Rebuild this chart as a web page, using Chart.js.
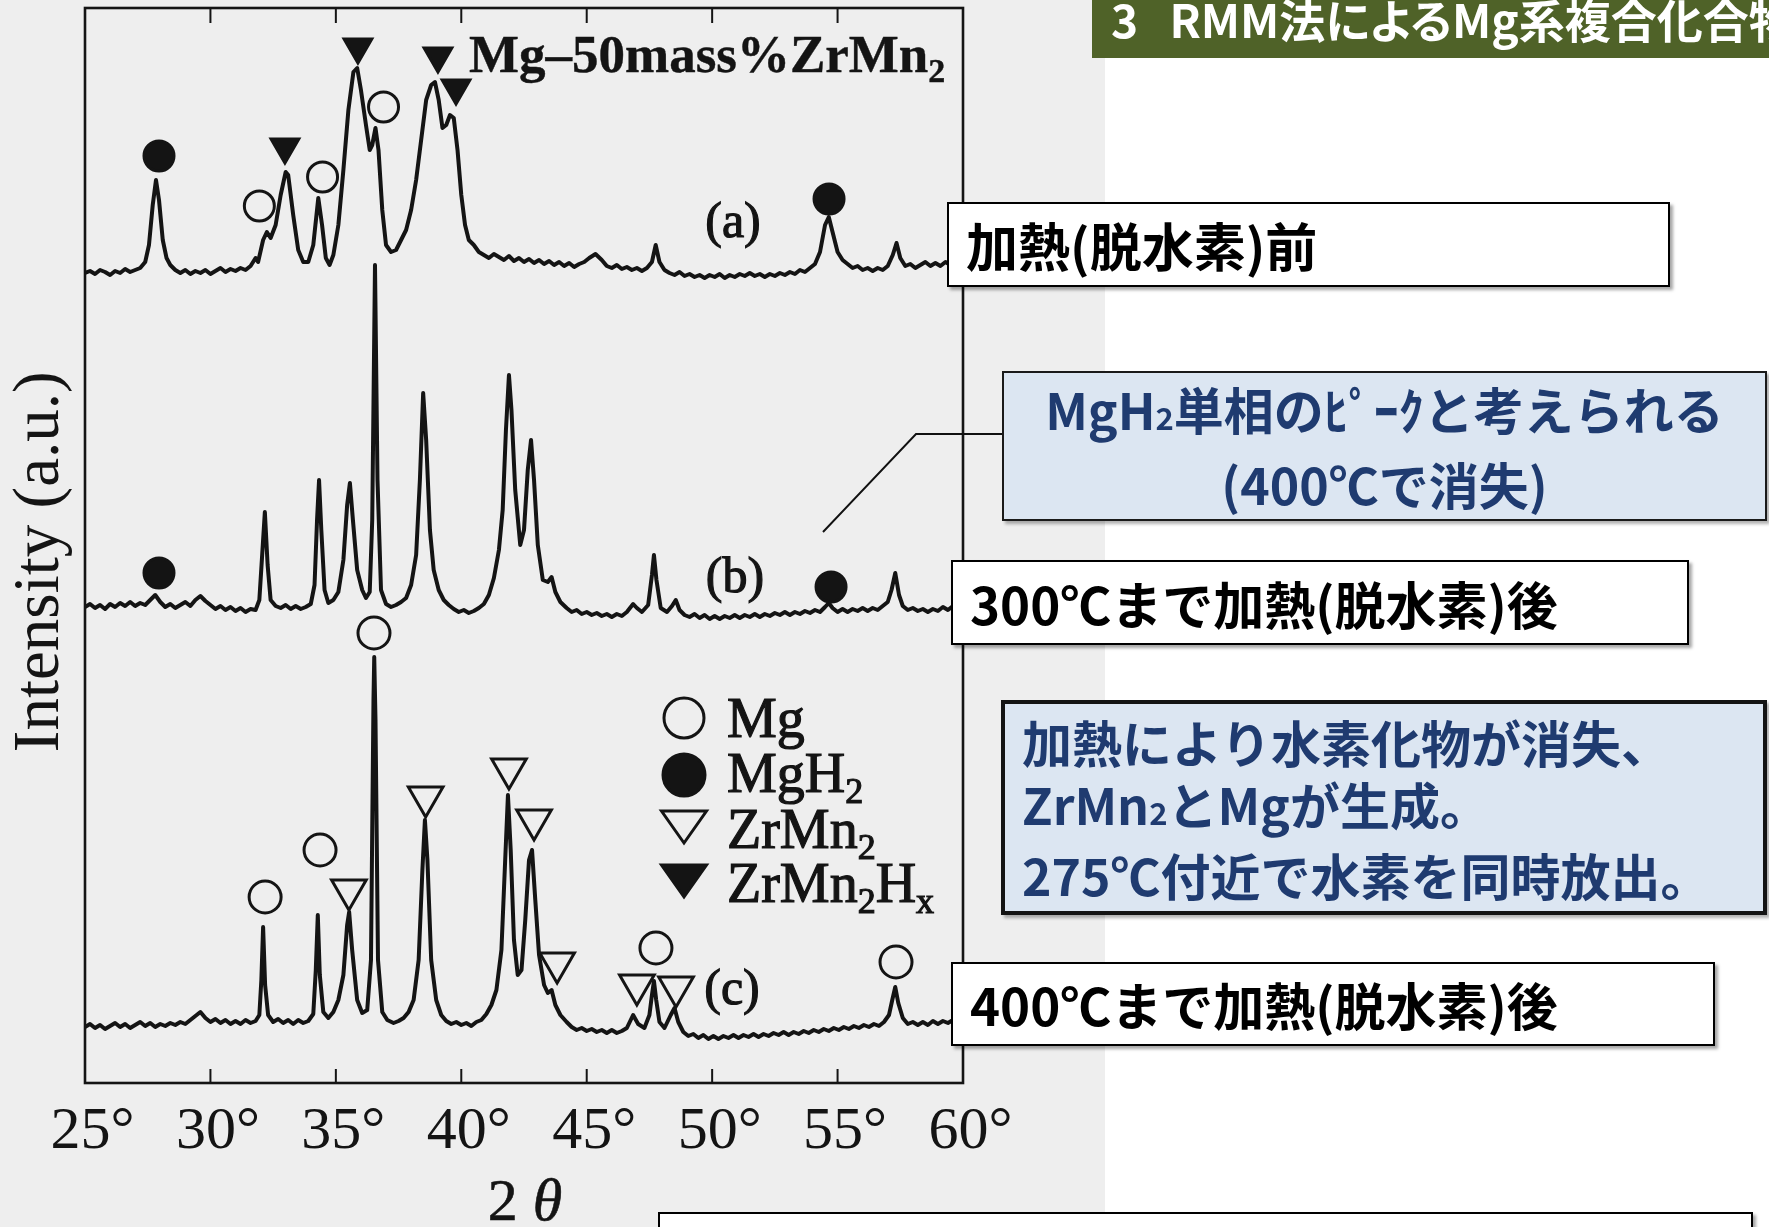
<!DOCTYPE html>
<html><head><meta charset="utf-8">
<script src="https://cdn.jsdelivr.net/npm/chart.js@4.4.0/dist/chart.umd.min.js"></script>
<style>
html,body{margin:0;padding:0;background:#fff;}
#stage{position:relative;width:1769px;height:1227px;overflow:hidden;background:#fff;}
#scan{position:absolute;left:0;top:0;width:1105px;height:1227px;background:#eeeeee;}
#c{position:absolute;left:0;top:0;width:1769px;height:1227px;}
#ov{position:absolute;left:0;top:0;}
#hdr{position:absolute;left:1092px;top:0;width:677px;height:58px;background:#4f6228;overflow:hidden;}
#hdr span{position:absolute;left:19px;top:-5px;white-space:nowrap;color:#fff;font-family:"Noto Sans CJK JP";font-weight:700;font-size:46px;line-height:46px;font-feature-settings:"palt";}
.box{position:absolute;box-sizing:border-box;font-family:"Noto Sans CJK JP";font-weight:700;white-space:nowrap;}
.wb{background:#fff;border:2px solid #000;color:#000;font-size:52px;line-height:60px;display:flex;align-items:center;padding-left:17px;box-shadow:3px 3px 3px rgba(0,0,0,0.35);}
.bb{background:#dce6f2;color:#1f3b70;font-size:50px;display:flex;flex-direction:column;justify-content:center;box-shadow:3px 3px 3px rgba(0,0,0,0.3);}
.s{font-size:0.62em;}
</style></head>
<body>
<div id="stage">
  <div id="scan"></div>
  <canvas id="c" width="1769" height="1227"></canvas>
  <svg id="ov" width="1769" height="1227" xmlns="http://www.w3.org/2000/svg">
    <g font-family="Liberation Serif, 'Times New Roman', serif" fill="#141414" stroke="#141414" stroke-width="1.2">
      <text x="469" y="72" font-size="53" font-weight="bold" stroke-width="0.4">Mg–50mass%ZrMn<tspan font-size="34" dy="10">2</tspan></text>
      <text x="733" y="237" font-size="50" text-anchor="middle">(a)</text>
      <text x="735" y="592" font-size="50" text-anchor="middle">(b)</text>
      <text x="732" y="1004" font-size="50" text-anchor="middle">(c)</text>
      <text x="727" y="737" font-size="56">Mg</text>
      <text x="727" y="792" font-size="56">MgH<tspan font-size="36" dy="11">2</tspan></text>
      <text x="727" y="848" font-size="56">ZrMn<tspan font-size="36" dy="11">2</tspan></text>
      <text x="727" y="902" font-size="56">ZrMn<tspan font-size="36" dy="11">2</tspan><tspan dy="-11">H</tspan><tspan font-size="36" dy="11">x</tspan></text>
      <text x="525" y="1220" font-size="60" text-anchor="middle" stroke-width="0.6">2 <tspan font-style="italic">θ</tspan></text>
    </g>
    <g stroke="#141414" stroke-width="3">
      <circle cx="684" cy="718" r="20" fill="none"/>
      <circle cx="684" cy="775" r="21" fill="#141414"/>
      <polygon points="661.5,811 706.5,811 684,843" fill="none"/>
      <polygon points="661.5,865 706.5,865 684,897" fill="#141414"/>
    </g>
    <polyline points="823,532 916,434 1002,434" fill="none" stroke="#111" stroke-width="2"/>
  </svg>
  <div id="hdr"><span>3&nbsp;&nbsp;&nbsp;RMM法によるMg系複合化合物</span></div>
  <div class="box wb" style="left:947px;top:202px;width:723px;height:85px;">加熱(脱水素)前</div>
  <div class="box bb" style="left:1002px;top:371px;width:765px;height:150px;border:2px solid #1a1a1a;text-align:center;line-height:67px;">
    <div>MgH<span class="s">2</span>単相のﾋﾟｰｸと考えられる</div><div>(400℃で消失)</div>
  </div>
  <div class="box wb" style="left:951px;top:560px;width:738px;height:85px;font-size:51px;">300℃まで加熱(脱水素)後</div>
  <div class="box bb" style="left:1001px;top:700px;width:766px;height:215px;border:4px solid #141414;padding-left:17px;line-height:62px;">
    <div>加熱により水素化物が消失、</div><div>ZrMn<span class="s">2</span>とMgが生成。</div><div>275℃付近で水素を同時放出。</div>
  </div>
  <div class="box wb" style="left:951px;top:962px;width:764px;height:84px;font-size:51px;">400℃まで加熱(脱水素)後</div>
  <div class="box wb" style="left:658px;top:1212px;width:1095px;height:60px;"></div>
</div>
<script>
// 2θ tick values
const xTicks = [25, 30, 35, 40, 45, 50, 55, 60];
// Trace (a): before heating  [2θ, intensity a.u.]
const traceA = [
[25.0,810],[25.2,812],[25.4,809],[25.6,813],[25.8,811],[26.0,808],[26.2,812],[26.4,810],[26.6,814],[26.8,811],[27.0,813],[27.2,815],[27.4,821],[27.55,838],[27.7,878],[27.83,903],[27.95,883],[28.1,843],[28.25,825],[28.4,818],[28.6,813],[28.8,810],[29.0,813],[29.2,809],[29.4,812],[29.6,810],[29.8,813],[30.0,809],[30.2,812],[30.4,815],[30.6,811],[30.8,814],[31.0,812],[31.2,815],[31.4,813],[31.6,817],[31.8,825],[31.9,821],[32.1,843],[32.25,851],[32.4,845],[32.6,858],[32.8,888],[33.0,911],[33.1,908],[33.3,868],[33.5,833],[33.7,821],[33.9,821],[34.1,838],[34.3,885],[34.45,858],[34.6,825],[34.75,818],[34.9,828],[35.1,858],[35.3,913],[35.5,973],[35.7,1011],[35.85,1015],[36.0,993],[36.2,958],[36.35,933],[36.45,938],[36.58,955],[36.7,933],[36.85,873],[37.0,838],[37.2,831],[37.4,833],[37.6,843],[37.8,853],[38.0,873],[38.2,903],[38.4,943],[38.6,983],[38.8,998],[38.95,1001],[39.1,983],[39.25,955],[39.4,958],[39.55,968],[39.7,965],[39.85,933],[40.0,888],[40.15,858],[40.3,843],[40.5,838],[40.7,831],[40.9,828],[41.1,825],[41.3,829],[41.5,826],[41.7,823],[41.9,827],[42.1,822],[42.3,825],[42.5,821],[42.7,824],[42.9,820],[43.1,823],[43.3,819],[43.5,822],[43.7,818],[43.9,821],[44.1,817],[44.3,820],[44.5,816],[44.7,819],[44.9,821],[45.1,825],[45.35,829],[45.6,823],[45.8,817],[46.0,815],[46.2,818],[46.4,814],[46.6,816],[46.8,813],[47.0,815],[47.2,812],[47.4,815],[47.6,821],[47.75,838],[47.9,821],[48.1,813],[48.3,810],[48.5,808],[48.7,811],[48.9,807],[49.1,809],[49.3,806],[49.5,808],[49.7,805],[49.9,808],[50.1,806],[50.3,809],[50.5,805],[50.7,808],[50.9,806],[51.1,809],[51.3,807],[51.5,810],[51.7,807],[51.9,809],[52.1,806],[52.3,809],[52.5,807],[52.7,810],[52.9,808],[53.1,811],[53.3,809],[53.5,813],[53.7,811],[53.9,815],[54.1,819],[54.3,831],[54.5,858],[54.65,866],[54.8,851],[55.0,831],[55.2,823],[55.4,819],[55.6,815],[55.8,817],[56.0,813],[56.2,815],[56.4,812],[56.6,815],[56.8,813],[57.0,817],[57.2,828],[57.35,840],[57.5,825],[57.7,817],[57.9,819],[58.1,815],[58.3,818],[58.5,821],[58.7,817],[58.9,820],[59.1,817],[59.3,821],[59.5,818],[59.7,822],[59.9,819],[60.0,820]
];
// Trace (b): after heating to 300 °C
const traceB = [
[25.0,476],[25.2,479],[25.4,475],[25.6,478],[25.8,474],[26.0,479],[26.2,476],[26.4,480],[26.6,477],[26.8,481],[27.0,477],[27.2,480],[27.4,478],[27.6,483],[27.8,488],[28.0,481],[28.2,476],[28.4,479],[28.6,475],[28.8,478],[29.0,481],[29.2,477],[29.4,483],[29.6,487],[29.8,482],[30.0,478],[30.2,474],[30.4,477],[30.6,473],[30.8,476],[31.0,472],[31.2,475],[31.4,471],[31.6,474],[31.8,473],[31.95,483],[32.05,523],[32.17,571],[32.28,518],[32.4,483],[32.6,477],[32.8,475],[33.0,478],[33.2,474],[33.4,477],[33.6,474],[33.8,476],[34.0,479],[34.15,498],[34.25,563],[34.33,603],[34.42,553],[34.55,493],[34.7,480],[34.9,483],[35.1,491],[35.3,523],[35.45,578],[35.56,600],[35.68,563],[35.85,513],[36.05,493],[36.2,485],[36.35,491],[36.45,563],[36.56,818],[36.66,603],[36.8,493],[37.0,479],[37.2,476],[37.4,478],[37.6,481],[37.8,485],[38.0,498],[38.2,528],[38.35,603],[38.48,690],[38.6,643],[38.75,553],[38.9,513],[39.1,493],[39.3,483],[39.5,478],[39.7,474],[39.9,471],[40.1,473],[40.3,470],[40.5,472],[40.7,475],[40.9,479],[41.1,488],[41.3,505],[41.5,533],[41.65,573],[41.78,653],[41.9,708],[42.0,673],[42.15,593],[42.35,538],[42.5,553],[42.65,613],[42.78,643],[42.9,603],[43.05,538],[43.25,503],[43.45,501],[43.6,506],[43.75,491],[43.95,481],[44.2,475],[44.4,471],[44.6,473],[44.8,469],[45.0,471],[45.2,468],[45.4,470],[45.6,467],[45.8,469],[46.0,466],[46.2,469],[46.4,467],[46.6,471],[46.85,479],[47.0,475],[47.2,471],[47.45,478],[47.6,508],[47.68,528],[47.78,503],[47.95,475],[48.2,471],[48.4,477],[48.55,483],[48.7,473],[48.9,468],[49.1,466],[49.3,469],[49.5,465],[49.7,468],[49.9,464],[50.1,467],[50.3,464],[50.5,467],[50.7,465],[50.9,468],[51.1,465],[51.3,468],[51.5,466],[51.7,469],[51.9,466],[52.1,469],[52.3,467],[52.5,470],[52.7,468],[52.9,471],[53.1,468],[53.3,471],[53.5,469],[53.7,472],[53.9,470],[54.1,473],[54.3,471],[54.5,476],[54.65,480],[54.8,475],[55.0,471],[55.2,474],[55.4,471],[55.6,474],[55.8,472],[56.0,475],[56.2,472],[56.4,475],[56.6,473],[56.8,477],[57.0,481],[57.15,493],[57.3,510],[57.45,488],[57.6,477],[57.8,473],[58.0,475],[58.2,472],[58.4,474],[58.6,471],[58.8,474],[59.0,472],[59.2,476],[59.4,473],[59.6,477],[59.8,475],[60.0,478]
];
// Trace (c): after heating to 400 °C
const traceC = [
[25.0,56],[25.2,59],[25.4,55],[25.6,58],[25.8,54],[26.0,57],[26.2,60],[26.4,56],[26.6,59],[26.8,55],[27.0,58],[27.2,61],[27.4,57],[27.6,60],[27.8,56],[28.0,59],[28.2,57],[28.4,60],[28.6,58],[28.8,61],[29.0,59],[29.2,63],[29.4,67],[29.6,71],[29.8,65],[30.0,61],[30.2,64],[30.4,60],[30.6,63],[30.8,59],[31.0,62],[31.2,59],[31.4,63],[31.6,60],[31.8,62],[31.95,68],[32.03,103],[32.1,156],[32.18,98],[32.3,68],[32.5,61],[32.7,64],[32.9,60],[33.1,63],[33.3,59],[33.5,63],[33.7,60],[33.9,62],[34.1,69],[34.2,113],[34.28,168],[34.36,108],[34.5,71],[34.7,65],[34.9,71],[35.1,83],[35.3,108],[35.45,158],[35.53,171],[35.65,133],[35.85,83],[36.05,70],[36.25,73],[36.4,123],[36.5,383],[36.53,426],[36.58,363],[36.68,123],[36.85,71],[37.05,63],[37.3,60],[37.5,62],[37.7,65],[37.9,71],[38.1,83],[38.3,123],[38.45,213],[38.55,263],[38.65,223],[38.8,123],[39.0,83],[39.2,68],[39.4,62],[39.6,59],[39.8,61],[40.0,58],[40.2,60],[40.4,57],[40.6,61],[40.8,63],[41.0,69],[41.2,78],[41.4,93],[41.6,133],[41.75,223],[41.86,288],[41.97,233],[42.1,143],[42.25,108],[42.4,113],[42.55,163],[42.7,223],[42.82,233],[42.95,183],[43.1,128],[43.3,98],[43.45,90],[43.6,93],[43.75,78],[43.95,68],[44.2,61],[44.4,56],[44.6,53],[44.8,55],[45.0,52],[45.2,54],[45.4,51],[45.6,53],[45.8,50],[46.0,53],[46.2,50],[46.4,52],[46.6,55],[46.85,68],[47.05,59],[47.3,55],[47.5,68],[47.6,88],[47.68,102],[47.77,83],[47.9,61],[48.1,55],[48.35,68],[48.5,75],[48.65,61],[48.85,51],[49.05,47],[49.25,49],[49.45,45],[49.65,48],[49.85,44],[50.05,47],[50.25,44],[50.45,47],[50.65,45],[50.85,48],[51.05,45],[51.25,48],[51.45,46],[51.65,49],[51.85,46],[52.05,49],[52.25,47],[52.45,50],[52.65,48],[52.85,51],[53.05,48],[53.25,51],[53.45,49],[53.65,52],[53.85,50],[54.05,53],[54.25,51],[54.45,54],[54.65,52],[54.85,55],[55.05,53],[55.25,56],[55.45,54],[55.65,57],[55.85,55],[56.05,58],[56.25,56],[56.45,59],[56.65,57],[56.85,61],[57.05,68],[57.18,83],[57.3,96],[57.42,80],[57.6,65],[57.8,59],[58.0,61],[58.2,58],[58.4,61],[58.6,58],[58.8,62],[59.0,59],[59.2,62],[59.4,60],[59.6,63],[59.8,61],[60.0,64]
];
// Peak assignment markers [2θ, intensity]
const mgA    = [[31.95,877],[34.47,906],[36.9,976]];
const mgh2A  = [[27.95,927],[54.66,884]];
const zrhA   = [[32.97,936],[35.88,1036],[39.07,1027],[39.79,995]];
const mgh2B  = [[27.95,510],[54.74,496]];
const mgC    = [[32.18,186],[34.37,233],[36.52,450],[47.76,135],[57.33,121]];
const zrC    = [[35.52,193],[38.58,286],[41.9,314],[42.9,263],[43.82,120],[47.0,98],[48.56,96]];

const toXY = arr => arr.map(p => ({x: p[0], y: p[1]}));
const INK = '#141414';

function traceDS(label, arr){
  return {label, type:'scatter', data: toXY(arr), showLine:true, borderColor:INK, borderWidth:4,
    pointRadius:0, pointHoverRadius:0, tension:0, borderJoinStyle:'round', order:2};
}
function markDS(label, arr, style, r, filled, rot){
  return {label, type:'scatter', data: toXY(arr), showLine:false, pointStyle:style, pointRadius:r,
    pointHoverRadius:r, rotation:rot||0, borderColor:INK, borderWidth:3,
    backgroundColor: filled ? INK : 'rgba(0,0,0,0)', order:1};
}

const framePlugin = {
  id:'frame',
  afterDatasetsDraw(chart){
    const {ctx, chartArea:a, scales:{x}} = chart;
    ctx.save();
    ctx.strokeStyle = INK; ctx.lineWidth = 2.6;
    ctx.strokeRect(a.left, a.top, a.right - a.left, a.bottom - a.top);
    ctx.lineWidth = 2;
    x.ticks.forEach(t => {
      if (t.value <= x.min || t.value >= x.max) return;
      const px = x.getPixelForValue(t.value);
      ctx.beginPath(); ctx.moveTo(px, a.top); ctx.lineTo(px, a.top + 15); ctx.stroke();
      ctx.beginPath(); ctx.moveTo(px, a.bottom); ctx.lineTo(px, a.bottom - 14); ctx.stroke();
    });
    ctx.restore();
  }
};

new Chart(document.getElementById('c'), {
  type:'scatter',
  data:{ datasets:[
    traceDS('(a) 加熱前', traceA),
    traceDS('(b) 300℃', traceB),
    traceDS('(c) 400℃', traceC),
    markDS('Mg (a)', mgA, 'circle', 15, false),
    markDS('MgH2 (a)', mgh2A, 'circle', 15, true),
    markDS('ZrMn2Hx (a)', zrhA, 'triangle', 16, true, 180),
    markDS('MgH2 (b)', mgh2B, 'circle', 15, true),
    markDS('Mg (c)', mgC, 'circle', 16, false),
    markDS('ZrMn2 (c)', zrC, 'triangle', 20, false, 180)
  ]},
  options:{
    responsive:false, animation:false, devicePixelRatio:1,
    layout:{autoPadding:false, padding:{left:0, top:8, right:806, bottom:0}},
    plugins:{legend:{display:false}, tooltip:{enabled:false}},
    scales:{
      x:{type:'linear', min:25, max:60,
        afterBuildTicks(s){ s.ticks = xTicks.map(v => ({value:v})); },
        afterFit(s){ s.height = 144; },
        grid:{display:false, drawTicks:false}, border:{display:false},
        ticks:{autoSkip:false, maxRotation:0, padding:13, color:INK,
          font:{family:'Liberation Serif', size:60},
          callback:v => ' ' + v + '°'}
      },
      y:{type:'linear', min:0, max:1075,
        afterFit(s){ s.width = 85; },
        grid:{display:false, drawTicks:false}, border:{display:false},
        ticks:{display:false},
        title:{display:true, text:'Intensity (a.u.)  ', color:INK,
          font:{family:'Liberation Serif', size:65, lineHeight:1}, padding:{top:8, bottom:0}}
      }
    }
  },
  plugins:[framePlugin]
});
</script>
</body></html>
